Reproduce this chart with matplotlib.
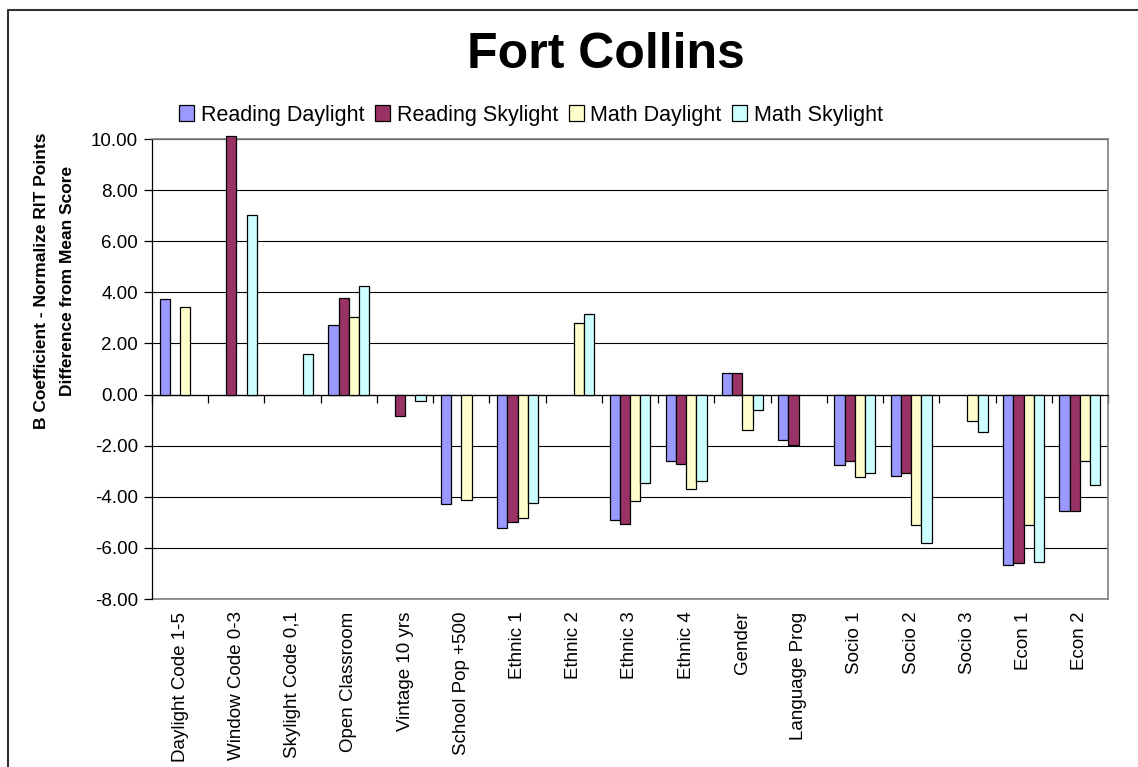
import matplotlib.pyplot as plt
import numpy as np
from matplotlib.lines import Line2D

plt.rcParams["font.family"] = ["Liberation Sans", "DejaVu Sans"]

categories = [
    "Daylight Code 1-5", "Window Code 0-3", "Skylight Code 0,1", "Open Classroom",
    "Vintage 10 yrs", "School Pop +500", "Ethnic 1", "Ethnic 2", "Ethnic 3",
    "Ethnic 4", "Gender", "Language Prog", "Socio 1", "Socio 2", "Socio 3",
    "Econ 1", "Econ 2",
]
nan = np.nan
reading_daylight = [3.74, nan, nan, 2.72, nan, -4.29, -5.22, nan, -4.89,
                    -2.61, 0.83, -1.77, -2.75, -3.17, nan, -6.67, -4.55]
reading_skylight = [nan, 10.10, nan, 3.78, -0.83, nan, -5.00, nan, -5.05,
                    -2.70, 0.83, -1.97, -2.61, -3.08, nan, -6.61, -4.55]
math_daylight = [3.41, nan, nan, 3.04, nan, -4.11, -4.83, 2.80, -4.15,
                 -3.69, -1.37, nan, -3.22, -5.09, -1.03, -5.09, -2.61]
math_skylight = [nan, 7.04, 1.60, 4.25, -0.27, nan, -4.24, 3.17, -3.48,
                 -3.37, -0.60, nan, -3.08, -5.79, -1.45, -6.56, -3.52]

series = [
    ("Reading Daylight", reading_daylight, "#9999FF"),
    ("Reading Skylight", reading_skylight, "#993366"),
    ("Math Daylight", math_daylight, "#FFFFCC"),
    ("Math Skylight", math_skylight, "#CCFFFF"),
]

fig = plt.figure(figsize=(11.38, 7.67), dpi=100)
ax = fig.add_axes([152 / 1138, 1 - 599 / 767, 956 / 1138, 460 / 767])

x = np.arange(len(categories))
w = 1 / 5.5
for i, (name, vals, color) in enumerate(series):
    ax.bar(x + (i - 1.5) * w, vals, width=w, color=color, edgecolor="black",
           linewidth=0.9, label=name, clip_on=False, zorder=3)

ax.set_xlim(-0.5, len(categories) - 0.5)
ax.set_ylim(-8, 10)
ax.set_yticks(np.arange(-8, 11, 2))
ax.set_yticklabels([f"{v:.2f}" for v in np.arange(-8, 11, 2)], fontsize=13.5)
ax.tick_params(axis="y", direction="out", length=6, width=0.9, pad=4)
ax.yaxis.grid(True, color="black", linewidth=0.8)
ax.set_axisbelow(True)

# category axis crosses at zero, ticks sit between categories
ax.spines["bottom"].set_position(("data", 0))
ax.spines["bottom"].set_linewidth(0.9)
ax.set_xticks(np.arange(len(categories) + 1) - 0.5)
ax.set_xticklabels([])
ax.tick_params(axis="x", direction="out", length=6, width=0.9)
ax.spines["left"].set_linewidth(0.9)
for s in ("top", "right"):
    ax.spines[s].set_color("#808080")
    ax.spines[s].set_linewidth(1.2)

sec = ax.secondary_xaxis("bottom")
sec.set_xticks(x)
sec.set_xticklabels(categories, rotation=90, fontsize=13.5, va="top")
sec.tick_params(length=0, pad=9)
sec.spines["bottom"].set_color("#808080")
sec.spines["bottom"].set_linewidth(1.2)

fig.text(606 / 1138, 1 - 55 / 767, "Fort Collins", fontsize=36,
         fontweight="bold", ha="center", va="center")
fig.legend(loc="center", bbox_to_anchor=(531 / 1138, 1 - 115 / 767), ncol=4,
           frameon=False, fontsize=15.5, handlelength=0.7, handleheight=0.7,
           handletextpad=0.3, columnspacing=0.5, borderpad=0)

fig.text(42 / 1138, 1 - 281 / 767, "B Coefficient - Normalize RIT Points",
         rotation=90, fontsize=12.5, fontweight="bold", ha="center", va="center")
fig.text(68 / 1138, 1 - 281 / 767, "Difference from Mean Score",
         rotation=90, fontsize=12.5, fontweight="bold", ha="center", va="center")

# chart frame: only the left and top edges fall inside the image
bx, by = 8 / 1138, 1 - 10 / 767
fig.lines.append(Line2D([bx, bx, 1.0], [0.0, by, by], transform=fig.transFigure,
                        color="#333333", linewidth=1.5))

fig.savefig("out.png", dpi=100)
